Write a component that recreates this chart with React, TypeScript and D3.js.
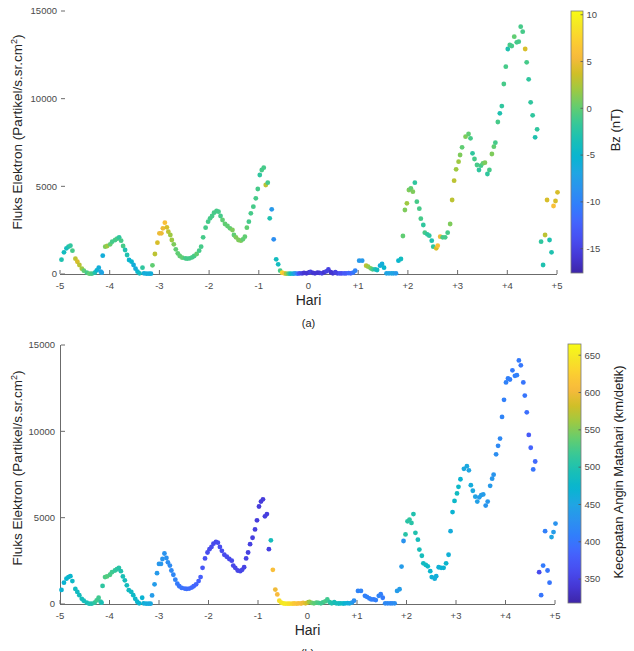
import React from "react";
import * as d3 from "d3";

// ---------- DATA ----------
const days = [
  -4.97,-4.92,-4.87,-4.83,-4.79,-4.75,-4.69,-4.65,-4.61,-4.56,-4.52,-4.46,-4.41,-4.36,-4.30,-4.26,-4.22,-4.18,-4.16,
  -4.14,-4.09,-4.05,-3.99,-3.95,-3.89,-3.85,-3.81,-3.77,-3.73,-3.69,-3.65,-3.61,-3.56,-3.52,-3.48,-3.44,-3.40,-3.34,-3.31,-3.26,-3.21,-3.17,
  -3.14,-3.09,-3.04,-3.00,-2.96,-2.93,-2.89,-2.85,-2.82,-2.78,-2.75,-2.71,-2.67,-2.63,-2.59,-2.54,-2.48,-2.44,-2.39,-2.34,-2.30,-2.25,-2.20,-2.16,-2.12,-2.07,-2.02,-1.98,-1.94,-1.90,-1.85,-1.81,-1.77,-1.73,-1.68,-1.63,-1.58,-1.53,-1.50,-1.46,-1.41,-1.36,-1.32,-1.28,-1.24,-1.20,-1.16,-1.11,-1.06,-1.02,-0.98,-0.94,-0.90,-0.86,-0.82,-0.78,-0.74,-0.70,-0.65,-0.61,-0.57,-0.53,
  -0.49,-0.45,-0.40,-0.36,-0.31,-0.27,-0.22,-0.18,-0.13,-0.09,-0.04,0.00,0.04,0.09,0.13,0.18,0.22,0.27,0.31,0.36,0.40,0.45,0.49,0.54,0.58,0.63,0.67,0.72,0.76,0.81,0.85,0.90,0.94,
  1.02,1.08,1.16,1.20,1.25,1.29,1.34,1.38,1.44,1.48,1.52,1.57,1.62,1.67,1.71,1.76,1.81,1.86,1.90,1.94,1.98,2.02,2.06,2.10,2.14,2.18,2.23,2.26,2.31,2.34,2.39,2.43,2.48,2.51,2.57,2.60,2.65,2.70,2.75,2.80,2.85,2.89,2.93,2.97,3.02,3.05,3.09,3.16,3.22,3.26,3.30,3.34,3.39,3.43,3.47,3.51,3.55,3.60,3.64,3.69,3.73,3.76,3.81,3.85,3.89,3.93,3.97,4.01,4.05,4.09,4.14,4.19,4.23,4.27,4.31,4.36,4.39,4.43,4.47,4.51,4.56,4.60,4.68,4.72,4.76,4.80,4.85,4.89,4.93,4.97,5.01,
];

const flux = [
  816,1237,1465,1557,1614,1330,874,700,513,302,188,76,20,20,76,209,361,133,76,
  1044,1557,1597,1694,1842,1939,2013,2093,1899,1597,1369,1084,798,701,513,302,131,40,361,40,20,20,20,
  496,1141,1785,2321,2321,2606,2926,2663,2412,2224,1939,1694,1408,1180,1027,930,895,873,895,952,1027,1141,1329,1557,2093,2641,2983,3176,3308,3496,3593,3553,3308,3080,2852,2737,2606,2509,2224,2093,1939,1899,1979,2127,2641,2983,3462,3838,4317,4848,5646,5931,6062,5076,5207,3176,3690,1979,838,553,188,76,
  40,20,20,20,20,30,20,40,30,60,40,80,120,60,40,80,60,40,90,150,260,100,40,110,40,30,40,30,40,50,40,80,190,
  760,760,475,418,323,266,266,228,475,570,361,40,40,40,40,40,760,855,2167,3650,4030,4790,4887,4694,5207,4123,3724,3154,2794,2355,2264,2184,1899,1557,1465,1614,2127,2093,2093,2355,2852,4220,5322,5970,6405,6786,7225,7830,7984,7739,6883,6558,6216,5931,6178,6311,6347,5703,5931,6843,7260,7488,8668,9163,9580,10836,11822,12832,13060,13003,13535,13212,13250,14105,13820,12832,12071,11102,9790,9050,7796,8252,1842,513,2224,4220,1939,1237,3878,4163,4659,
];

const bz = [
  -3,-4,-4,-3,-2,-1,3,4,3,2,0,-1,0,-1,-3,-5,-6,-7,-7,
  -6,1,2,0,-1,-1,-1,-2,-1,-1,-3,-3,-5,-5,-6,-6,-5,-4,-2,-6,-6,-6,-6,
  0,3,4,5,5,5,6,4,3,2,2,1,0,0,0,0,-1,-1,-1,-1,-1,0,-1,-1,-1,-1,-1,-1,-1,-1,-1,-1,-1,0,0,0,0,1,0,1,1,1,0,0,0,-1,-1,-1,-1,-1,-2,-1,-1,3,-1,-3,-8,-9,-4,-4,-1,8,
  6,2,-1,-4,-6,-8,-11,-14,-15,-16,-16,-16,-15,-16,-16,-16,-16,-15,-16,-15,-15,-16,-16,-15,-15,-14,-14,-13,-13,-12,-12,-11,-10,
  -8,-8,3,2,1,-1,-3,-4,-6,-6,-5,-7,-7,-7,-7,-8,-5,-4,0,1,2,1,0,1,-2,-1,-1,-1,-2,-1,-2,-2,-3,-2,4,6,5,-1,-1,-1,1,3,3,2,2,1,0,1,0,-1,-2,-1,-1,-2,-1,0,1,-2,-1,1,0,-1,-1,-3,-2,-1,-1,-3,-1,-1,0,-1,-1,-1,-1,4,-1,-2,-2,-2,-3,-2,-2,-3,3,4,-3,-3,6,4,4,
];

const speed = [
  470,470,472,475,475,480,485,485,488,490,490,492,495,500,510,520,520,510,495,
  510,525,530,525,520,515,510,505,500,495,490,488,485,482,480,478,475,472,470,465,460,458,455,
  440,440,438,435,435,432,430,428,425,422,420,418,415,405,400,398,395,395,392,390,388,385,382,380,372,365,362,360,360,358,358,360,362,362,360,360,358,358,356,356,355,355,355,352,352,350,350,348,348,346,345,345,345,348,348,350,490,610,600,605,640,645,
  648,650,645,640,630,620,615,610,605,600,590,580,560,545,535,530,525,520,520,525,520,510,500,495,490,490,485,480,470,465,460,440,425,
  415,415,410,412,410,412,405,410,415,410,405,420,420,420,420,425,440,440,440,430,505,505,510,505,500,500,490,492,490,485,485,480,475,465,462,462,465,468,470,475,465,460,470,478,485,480,470,455,455,450,460,455,448,445,440,442,440,432,435,438,435,432,425,420,420,415,410,412,410,408,405,408,410,405,402,400,400,395,375,385,400,390,360,400,405,410,400,400,450,440,430,
];

const xTicks = [-5, -4, -3, -2, -1, 0, 1, 2, 3, 4, 5];
const xTickLabels = ["-5", "-4", "-3", "-2", "-1", "0", "+1", "+2", "+3", "+4", "+5"];
const yTicks = [0, 5000, 10000, 15000];
const bzTicks = [-15, -10, -5, 0, 5, 10];
const bzRange = [-17.6, 10.4];
const speedTicks = [350, 400, 450, 500, 550, 600, 650];
const speedRange = [318, 665];

// parula colormap (MATLAB rows 1,5,9,...,61,64 of the 64-row table)
const parulaRows = [
  [0.2422, 0.1504, 0.6603], [0.2706, 0.2147, 0.8364], [0.2813, 0.3006, 0.9414], [0.2699, 0.3892, 0.9906],
  [0.1963, 0.4847, 0.9892], [0.1687, 0.5703, 0.9359], [0.1248, 0.6459, 0.8883], [0.0297, 0.7082, 0.8163],
  [0.0964, 0.75, 0.712], [0.2161, 0.7843, 0.5923], [0.3909, 0.8029, 0.4354], [0.6174, 0.7876, 0.2612],
  [0.8203, 0.7498, 0.1535], [0.9728, 0.7298, 0.2394], [0.9892, 0.8136, 0.1885], [0.9597, 0.9135, 0.1423],
  [0.9769, 0.9839, 0.0805],
];
const parulaPos = [0, 4, 8, 12, 16, 20, 24, 28, 32, 36, 40, 44, 48, 52, 56, 60, 63].map((r) => r / 63);
const parulaScale = d3
  .scaleLinear<string>()
  .domain(parulaPos)
  .range(parulaRows.map((c) => d3.rgb(c[0] * 255, c[1] * 255, c[2] * 255).formatHex()))
  .interpolate(d3.interpolateRgb)
  .clamp(true);
const parulaInterp = (t: number) => parulaScale(t);

const FONT = "'Liberation Sans', Arial, Helvetica, sans-serif";

type PanelProps = {
  x0: number; x1: number; yTop: number; yBot: number;
  cbX: number; cbW: number; cbY0: number; cbY1: number;
  colorVals: number[]; cRange: number[]; cTicks: number[];
  cLabel: string; cLabelX: number; cLabelY: number; showYAxisLine: boolean;
  caption: string; id: string; yLabelX: number; yLabelY: number; yTickRight: number;
};

function Panel(p: PanelProps) {
  const x = d3.scaleLinear().domain([-5, 5]).range([p.x0, p.x1]);
  const y = d3.scaleLinear().domain([0, 15000]).range([p.yBot, p.yTop]);
  const cNorm = d3.scaleLinear().domain(p.cRange).range([0, 1]).clamp(true);
  const cY = d3.scaleLinear().domain(p.cRange).range([p.cbY1, p.cbY0]);
  const stops = d3.range(0, 1.0001, 0.02);
  const axisCol = "#6b6b6b";
  const tickTxt = "#4a4a4a";
  const midX = (p.x0 + p.x1) / 2;
  return (
    <g>
      <defs>
        <linearGradient id={p.id} x1="0" y1="1" x2="0" y2="0">
          {stops.map((s, i) => (
            <stop key={i} offset={s} stopColor={parulaInterp(s)} />
          ))}
        </linearGradient>
      </defs>
      {/* axes */}
      <line x1={p.x0} x2={p.x1} y1={p.yBot + 0.5} y2={p.yBot + 0.5} stroke={axisCol} strokeWidth={1} />
      {p.showYAxisLine && (
        <line x1={p.x0 + 0.5} x2={p.x0 + 0.5} y1={p.yTop} y2={p.yBot} stroke={axisCol} strokeWidth={1} />
      )}
      {xTicks.map((t, i) => (
        <g key={"xt" + i}>
          <line x1={x(t)} x2={x(t)} y1={p.yBot} y2={p.yBot - 4} stroke={axisCol} strokeWidth={1} />
          <text x={x(t)} y={p.yBot + 15} fontSize={9.5} fill={tickTxt} textAnchor="middle" fontFamily={FONT}>
            {xTickLabels[i]}
          </text>
        </g>
      ))}
      {yTicks.map((t, i) => (
        <g key={"yt" + i}>
          <line x1={p.x0 + 1} x2={p.x0 + 5} y1={y(t)} y2={y(t)} stroke={axisCol} strokeWidth={1} />
          <text x={p.yTickRight} y={y(t)} dy="0.35em" fontSize={9.5} fill={tickTxt} textAnchor="end" fontFamily={FONT}>
            {t}
          </text>
        </g>
      ))}
      {/* points */}
      {days.map((d, i) => (
        <circle key={i} cx={x(d)} cy={y(flux[i])} r={2.4} fill={parulaInterp(cNorm(p.colorVals[i]))} />
      ))}
      {/* labels */}
      <text x={midX} y={p.yBot + 31} fontSize={14} fill="#262626" textAnchor="middle" fontFamily={FONT}>Hari</text>
      <text x={midX} y={p.yBot + 53} fontSize={11} fill="#262626" textAnchor="middle" fontFamily={FONT}>{p.caption}</text>
      <text
        transform={`translate(${p.yLabelX},${p.yLabelY}) rotate(-90)`}
        fontSize={13.5} fill="#262626" textAnchor="middle" fontFamily={FONT}
      >
        Fluks Elektron (Partikel/s.sr.cm<tspan fontSize={9} dy={-5}>2</tspan><tspan dy={5}>)</tspan>
      </text>
      {/* colorbar */}
      <rect x={p.cbX} y={p.cbY0} width={p.cbW} height={p.cbY1 - p.cbY0} fill={`url(#${p.id})`} stroke="#7a7a7a" strokeWidth={0.8} />
      {p.cTicks.map((t, i) => (
        <g key={"ct" + i}>
          <line x1={p.cbX + p.cbW - 2.5} x2={p.cbX + p.cbW} y1={cY(t)} y2={cY(t)} stroke="#555" strokeWidth={0.8} />
          <text x={p.cbX + p.cbW + 3.5} y={cY(t)} dy="0.35em" fontSize={9.5} fill={tickTxt} fontFamily={FONT}>
            {t}
          </text>
        </g>
      ))}
      <text
        transform={`translate(${p.cLabelX},${p.cLabelY}) rotate(-90)`}
        fontSize={13} fill="#222" textAnchor="middle" fontFamily={FONT}
      >
        {p.cLabel}
      </text>
    </g>
  );
}

export default function App() {
  return (
    <svg
      width={634}
      height={651}
      style={{ position: "absolute", left: 0, top: 0, background: "#fff" }}
    >
      <rect width={634} height={651} fill="#fff" />
      <Panel
        id="gradTop" x0={60} x1={557} yTop={11} yBot={274}
        cbX={571} cbW={12} cbY0={11} cbY1={273}
        colorVals={bz} cRange={bzRange} cTicks={bzTicks}
        cLabel="Bz (nT)" cLabelX={620} cLabelY={130} showYAxisLine={false}
        caption="(a)" yLabelX={22} yLabelY={132} yTickRight={57}
      />
      <Panel
        id="gradBot" x0={60} x1={555} yTop={345} yBot={604}
        cbX={568} cbW={13} cbY0={344} cbY1={603}
        colorVals={speed} cRange={speedRange} cTicks={speedTicks}
        cLabel="Kecepatan Angin Matahari (km/detik)" cLabelX={623} cLabelY={472} showYAxisLine={true}
        caption="(b)" yLabelX={22} yLabelY={468} yTickRight={55}
      />
    </svg>
  );
}
